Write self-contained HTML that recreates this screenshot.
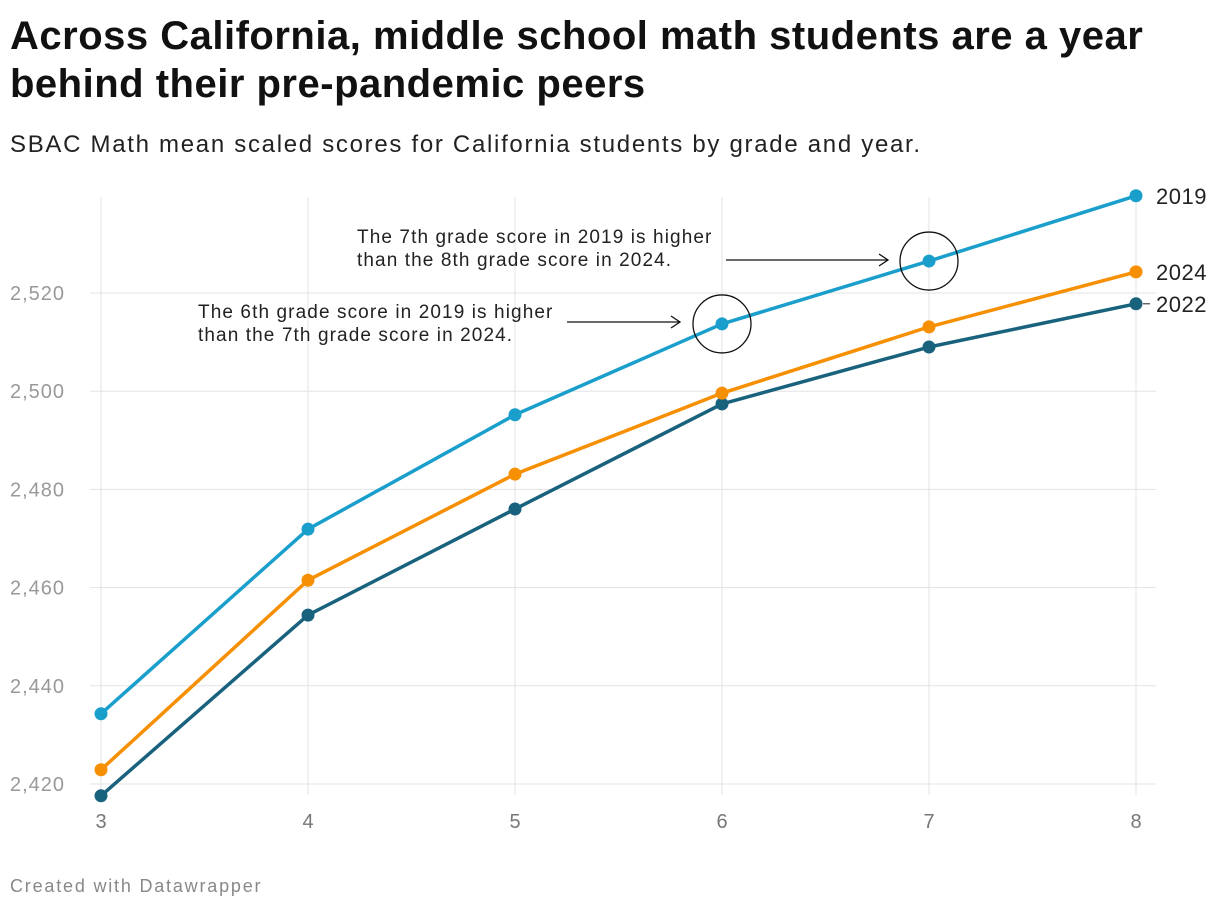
<!DOCTYPE html>
<html><head><meta charset="utf-8"><style>
body{margin:0;background:#fff;font-family:"Liberation Sans",Arial,sans-serif;}
#wrap{position:relative;width:1220px;height:912px;overflow:hidden}
h1{position:absolute;left:10px;top:12px;width:1170px;margin:0;font-size:40px;line-height:48px;font-weight:bold;color:#111;letter-spacing:0.5px}
.sub{position:absolute;left:10px;top:131px;font-size:24px;letter-spacing:1.7px;color:#222;white-space:nowrap}
.foot{position:absolute;left:10px;top:876px;font-size:18px;letter-spacing:1.8px;color:#888}
svg{position:absolute;left:0;top:0}
</style></head><body>
<div id="wrap">
<h1>Across California, middle school math students are a year behind their pre-pandemic peers</h1>
<div class="sub">SBAC Math mean scaled scores for California students by grade and year.</div>
<div class="foot">Created with Datawrapper</div>
<svg id="chart" width="1220" height="912"></svg>
</div>
<script>
const grades=[3,4,5,6,7,8];
const yTicks=[2420,2440,2460,2480,2500,2520];
const s2019=[2434.3,2471.9,2495.2,2513.7,2526.5,2539.8];
const s2024=[2422.9,2461.5,2483.1,2499.6,2513.1,2524.3];
const s2022=[2417.6,2454.4,2476.0,2497.4,2509.0,2517.8];
const NS='http://www.w3.org/2000/svg';
const svg=document.getElementById('chart');
const x=g=>101+(g-3)*207;
const y=v=>784-(v-2420)*4.91;
function mk(t,a,p){const e=document.createElementNS(NS,t);for(const k in a)e.setAttribute(k,a[k]);(p||svg).appendChild(e);return e;}
yTicks.forEach(t=>{
  const l=mk('line',{x1:90,x2:1156,y1:y(t),y2:y(t),stroke:'#e3e3e3','stroke-width':1});
  
  
  const tx=mk('text',{x:10,y:y(t)+7,'font-size':20,'letter-spacing':1,fill:'#999'});
  tx.textContent=t.toLocaleString('en-US');
  
  
});
grades.forEach(g=>{
  const l=mk('line',{x1:x(g),x2:x(g),y1:197,y2:795,stroke:'#e3e3e3','stroke-width':1});
  
  
  const tx=mk('text',{x:x(g),y:828,'font-size':20,fill:'#777','text-anchor':'middle'});
  tx.textContent=g;
  
  
});
const series=[['2022',s2022,'#19627d'],['2024',s2024,'#f78f03'],['2019',s2019,'#1a9fcc']];
series.forEach(([name,vals,col])=>{
  const p=mk('polyline',{points:vals.map((v,i)=>x(grades[i])+','+y(v)).join(' '),fill:'none',stroke:col,'stroke-width':3.5,'stroke-linejoin':'round'});
  
  
  vals.forEach((v,i)=>{
    const c=mk('circle',{cx:x(grades[i]),cy:y(v),r:6.5,fill:col});
    
    
  });
  const tx=mk('text',{x:1156,y:y(vals[vals.length-1])+8,'font-size':22,'letter-spacing':0.5,fill:'#222'});
  tx.textContent=name;
  
  
});
mk('line',{x1:1143,x2:1150,y1:y(s2022[5]),y2:y(s2022[5]),stroke:'#222'});
function ann(cx,cy,lines,tx,ty,ax1,ax2,ay){
  const c=mk('circle',{cx:cx,cy:cy,r:29,fill:'none',stroke:'#111','stroke-width':1.3});
  
  
  mk('line',{x1:ax1,x2:ax2,y1:ay,y2:ay,stroke:'#111','stroke-width':1.3});
  mk('polyline',{points:`${ax2-9},${ay-6} ${ax2},${ay} ${ax2-9},${ay+6}`,fill:'none',stroke:'#111','stroke-width':1.3});
  lines.forEach((s,i)=>{const t=mk('text',{x:tx,y:ty+i*23,'font-size':19,'letter-spacing':1.1,fill:'#222'});t.textContent=s;
  
  });
}
ann(x(7),y(s2019[4]),['The 7th grade score in 2019 is higher','than the 8th grade score in 2024.'],357,243,726,888,260);
ann(x(6),y(s2019[3]),['The 6th grade score in 2019 is higher','than the 7th grade score in 2024.'],198,318,567,680,322);
</script>
</body></html>
